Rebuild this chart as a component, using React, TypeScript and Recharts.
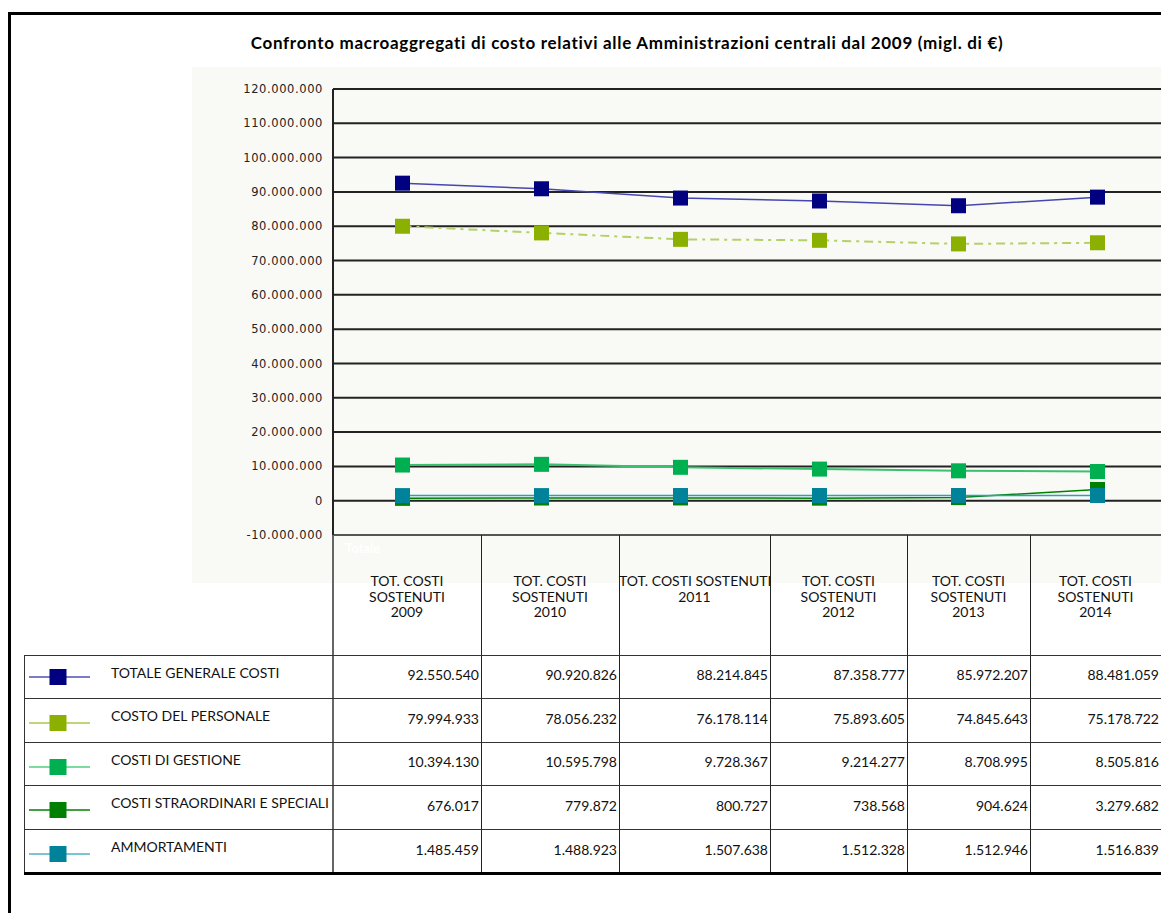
import { CartesianGrid, Line, LineChart, ReferenceLine, XAxis, YAxis } from "recharts";

const years = ["2009", "2010", "2011", "2012", "2013", "2014"];
const headerLines = [
  ["TOT. COSTI", "SOSTENUTI", "2009"],
  ["TOT. COSTI", "SOSTENUTI", "2010"],
  ["TOT. COSTI SOSTENUTI", "2011"],
  ["TOT. COSTI", "SOSTENUTI", "2012"],
  ["TOT. COSTI", "SOSTENUTI", "2013"],
  ["TOT. COSTI", "SOSTENUTI", "2014"],
];

const totaleGenerale = [92550540, 90920826, 88214845, 87358777, 85972207, 88481059];
const costoPersonale = [79994933, 78056232, 76178114, 75893605, 74845643, 75178722];
const costiGestione = [10394130, 10595798, 9728367, 9214277, 8708995, 8505816];
const costiStraordinari = [676017, 779872, 800727, 738568, 904624, 3279682];
const ammortamenti = [1485459, 1488923, 1507638, 1512328, 1512946, 1516839];

const yTicks = [
  -10000000, 0, 10000000, 20000000, 30000000, 40000000, 50000000, 60000000,
  70000000, 80000000, 90000000, 100000000, 110000000, 120000000,
];

const series = [
  { key: "tot", name: "TOTALE GENERALE COSTI", values: totaleGenerale, line: "#4646b0", marker: "#000080", width: 1.5, dash: undefined, legendLine: "#5050b0" },
  { key: "pers", name: "COSTO DEL PERSONALE", values: costoPersonale, line: "#b4d06a", marker: "#8cb000", width: 2, dash: "9 5 3 5", legendLine: "#a8c848" },
  { key: "gest", name: "COSTI DI GESTIONE", values: costiGestione, line: "#3cc070", marker: "#00b050", width: 2, dash: undefined, legendLine: "#50d080" },
  { key: "str", name: "COSTI STRAORDINARI E SPECIALI", values: costiStraordinari, line: "#008000", marker: "#008000", width: 1.5, dash: undefined, legendLine: "#008000" },
  { key: "amm", name: "AMMORTAMENTI", values: ammortamenti, line: "#2aa0c0", marker: "#00839a", width: 1.5, dash: undefined, legendLine: "#50b0c0" },
];

const data = years.map((year, i) => {
  const row: Record<string, string | number> = { year };
  series.forEach((s) => {
    row[s.key] = s.values[i];
  });
  return row;
});

const fmt = (n: number) => String(n).replace(/\B(?=(\d{3})+(?!\d))/g, ".");

// table layout
const colEdges = [333, 481, 619, 770, 907, 1030, 1161];
const rowEdges = [655, 698, 742, 785, 829, 873];
const tableFont = "Lato, 'Open Sans', sans-serif";

function squareDot(color: string, id: string) {
  return (props: any) => {
    const { cx, cy, index } = props;
    if (cx == null || cy == null) return <g key={`${id}-${index}`} />;
    return <rect key={`${id}-${index}`} x={cx - 7.5} y={cy - 7.5} width={15} height={15} fill={color} />;
  };
}

export default function App() {
  return (
    <div style={{ position: "absolute", left: 0, top: 0, width: 1161, height: 913, overflow: "hidden", background: "#fff", fontFamily: tableFont }}>
      {/* frame */}
      <div style={{ position: "absolute", left: 8, top: 12, width: 3, height: 901, background: "#000" }} />
      <div style={{ position: "absolute", left: 8, top: 12, width: 1153, height: 3, background: "#000" }} />

      <div style={{ position: "absolute", left: 127, top: 33, width: 1000, textAlign: "center", fontWeight: 700, fontSize: 17, letterSpacing: 0.7, lineHeight: "20px", color: "#000", whiteSpace: "nowrap" }}>
        Confronto macroaggregati di costo relativi alle Amministrazioni centrali dal 2009 (migl. di €)
      </div>

      {/* chart background */}
      <div style={{ position: "absolute", left: 192, top: 67, width: 969, height: 516, background: "#f9faf5" }} />

      <div style={{ position: "absolute", left: 0, top: 0 }}>
        <LineChart width={1167} height={583} data={data} margin={{ top: 89, right: 0, left: 263, bottom: 48 }}>
          <CartesianGrid vertical={false} stroke="#222" strokeWidth={2} />
          <XAxis dataKey="year" hide padding={{ left: 69.5, right: 69.5 }} />
          <YAxis
            domain={[-10000000, 120000000]}
            ticks={yTicks}
            interval={0}
            width={70}
            tickLine={false}
            tickSize={0}
            tickMargin={10}
            axisLine={{ stroke: "#222", strokeWidth: 2 }}
            tick={{ fontSize: 11.5, fill: "#222", fontFamily: "'DejaVu Sans', Verdana, sans-serif", letterSpacing: 0.6 }}
            tickFormatter={fmt}
          />
          <ReferenceLine y={-10000000} stroke="#555" strokeWidth={2} />
          {series.map((s) => (
            <Line
              key={s.key}
              type="linear"
              dataKey={s.key}
              stroke={s.line}
              strokeWidth={s.width}
              strokeDasharray={s.dash}
              dot={squareDot(s.marker, s.key)}
              activeDot={false}
              isAnimationActive={false}
            />
          ))}
        </LineChart>
      </div>

      <div style={{ position: "absolute", left: 345, top: 540, fontSize: 13, fontWeight: 700, color: "#fff" }}>Totale</div>

      {/* table grid */}
      {colEdges.slice(0, -1).map((x, i) => (
        <div key={`v${i}`} style={{ position: "absolute", left: i === 0 ? x - 1 : x, top: 535, width: i === 0 ? 2 : 1, height: 338, background: i === 0 ? "#666" : "#222" }} />
      ))}
      <div style={{ position: "absolute", left: 24, top: rowEdges[0], width: 1, height: rowEdges[5] - rowEdges[0], background: "#333" }} />
      {rowEdges.map((y, i) => (
        <div key={`h${i}`} style={{ position: "absolute", left: 24, top: i === rowEdges.length - 1 ? y - 1 : y, width: 1137, height: i === rowEdges.length - 1 ? 3 : 1, background: i === rowEdges.length - 1 ? "#000" : "#333" }} />
      ))}

      {/* column headers */}
      {headerLines.map((lines, i) => (
        <div key={`hd${i}`} style={{ position: "absolute", left: colEdges[i], top: 573, width: colEdges[i + 1] - colEdges[i], textAlign: "center", fontSize: 14, lineHeight: "15.7px", color: "#111", whiteSpace: "nowrap" }}>
          {lines.map((l, j) => (
            <div key={j}>{l}</div>
          ))}
        </div>
      ))}

      {/* rows */}
      {series.map((s, r) => {
        const mid = (rowEdges[r] + rowEdges[r + 1]) / 2;
        const iconY = r === 0 ? mid + 0.5 : mid + 3;
        return (
          <div key={`row${r}`}>
            <svg style={{ position: "absolute", left: 24, top: iconY - 10 }} width={80} height={20}>
              <line x1={5} x2={66} y1={10} y2={10} stroke={s.legendLine} strokeWidth={1.5} />
              <rect x={25.5} y={2} width={17} height={16} fill={s.marker} />
            </svg>
            <div style={{ position: "absolute", left: 111, top: mid - 4 - 9, height: 18, lineHeight: "18px", fontSize: 14, color: "#111", whiteSpace: "nowrap" }}>{s.name}</div>
            {s.values.map((v, c) => (
              <div key={c} style={{ position: "absolute", left: colEdges[c], top: mid - 1.5 - 9, width: colEdges[c + 1] - colEdges[c] - 2, height: 18, lineHeight: "18px", textAlign: "right", fontSize: 14, color: "#111", whiteSpace: "nowrap" }}>
                {fmt(v)}
              </div>
            ))}
          </div>
        );
      })}
    </div>
  );
}
